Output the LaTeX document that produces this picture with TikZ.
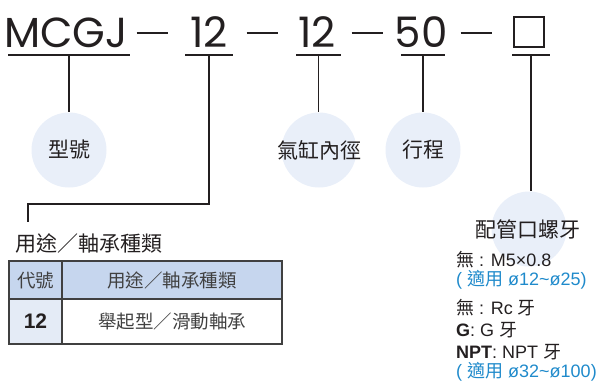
\documentclass[tikz,border=0pt]{standalone}
\usepackage{fontspec}
\setmainfont{Liberation Sans}
\newfontfamily\cjk{Noto Sans CJK TC}
\newfontfamily\geo{Poppins}
\definecolor{ink}{HTML}{231F20}
\definecolor{bubblefill}{HTML}{E9EFF9}
\definecolor{hdrblue}{HTML}{C6D6EE}
\definecolor{codeblue}{HTML}{E4EBF6}
\definecolor{notegray}{HTML}{404040}
\definecolor{fitblue}{HTML}{1F8ACB}
\newcommand{\zh}[1]{{\cjk #1}}

\begin{document}
\begin{tikzpicture}[x=1pt, y=-1pt,
    code/.style={anchor=base, inner sep=0, text=ink,
      font=\geo\fontsize{42}{42}\selectfont},
    uline/.style={draw=ink, line width=1.2pt},
    bubble/.style={circle, fill=bubblefill, minimum size=75pt, inner sep=0},
    ctext/.style={text=ink, inner sep=0, font=\cjk\fontsize{21}{21}\selectfont},
    cell/.style={draw=notegray, line width=1.3pt, inner sep=0, text=notegray,
      font=\cjk\fontsize{18.5}{18.5}\selectfont},
    note/.style={anchor=west, inner sep=0, text=ink,
      font=\fontsize{18}{18}\selectfont}]
  \useasboundingbox (0,0) rectangle (601,381);

  % model code
  \node[code] (model) at (66,47) {MCGJ};
  \node[code] (use) at (209,47) {12};
  \node[code] (bore) at (317,47) {12};
  \node[code] (stroke) at (421,47) {50};
  \node[draw=ink, line width=2pt, minimum size=30pt, inner sep=0] (opt) at (529,32) {};
  \foreach \x/\n in {152/d1, 262/d2, 367/d3, 476/d4}
    \node[code] (\n) at (\x,47) {\raisebox{12.6pt}{\rule{31pt}{2.8pt}}};

  % underlines
  \foreach \a/\b/\n in {8/130/u1, 185/233/u2, 296/341/u3, 401/445/u4, 512/550/u5}
  {
    \draw[uline] (\a,55) -- (\b,55);
    \coordinate (\n) at ({(\a+\b)/2},55);
  }

  % bubbles
  \node[bubble] (typeb) at (69,150) {};
  \node[ctext] at (typeb) {型號};
  \node[bubble] (boreb) at (319,150) {};
  \node[ctext] at (boreb) {氣缸內徑};
  \node[bubble] (strokeb) at (423,150) {};
  \node[ctext] at (strokeb) {行程};
  \node[bubble] (portb) at (529,229) {};
  \node[ctext] (porttitle) at (528,229) {配管口螺牙};

  \draw[uline] (u1) -- (u1 |- typeb.north);
  \draw[uline] (u3) -- (u3 |- boreb.north);
  \draw[uline] (u4) -- (u4 |- strokeb.north);
  \draw[uline] (u5) -- (u5 |- portb.north);
  \coordinate (k0) at (28,204);
  \coordinate (k1) at (28,222);
  \draw[uline] (u2) -- (u2 |- k0) -- (k0) -- (k1);

  % use / bearing table
  \node[ctext, anchor=west] (usetitle) at (15,243) {用途／軸承種類};
  \node[cell, fill=hdrblue, minimum width=53pt, minimum height=38pt] (hcode) at (35.5,280) {代號};
  \node[cell, fill=hdrblue, minimum width=220pt, minimum height=38pt] (huse) at (172,280) {用途／軸承種類};
  \node[cell, fill=codeblue, minimum width=53pt, minimum height=45pt,
    font=\bfseries\fontsize{21}{21}\selectfont, text=ink] (rcode) at (35.5,321.5) {12};
  \node[cell, minimum width=220pt, minimum height=45pt] (ruse) at (172,321.5) {舉起型／滑動軸承};

  % port thread notes
  \node[note] (n1) at (456,260) {\zh{無} : M5×0.8};
  \node[note, text=fitblue] (n2) at (456,280) {( \zh{適用} ø12\textasciitilde ø25)};
  \node[note] (n3) at (456,308) {\zh{無} : Rc \zh{牙}};
  \node[note] (n4) at (456,330) {\textbf{G}: G \zh{牙}};
  \node[note] (n5) at (456,352) {\textbf{NPT}: NPT \zh{牙}};
  \node[note, text=fitblue] (n6) at (456,372) {( \zh{適用} ø32\textasciitilde ø100)};
\end{tikzpicture}
\end{document}
